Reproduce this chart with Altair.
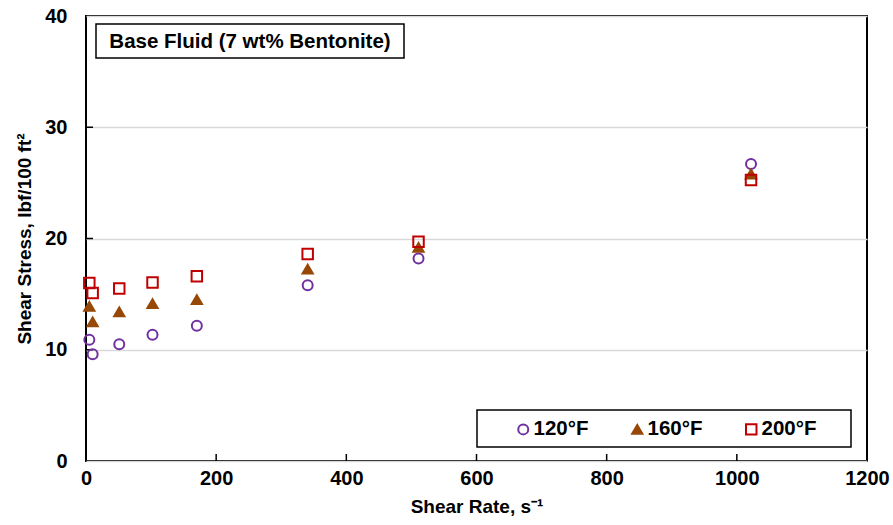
import altair as alt
import pandas as pd

# Shear rates of the viscometer speeds (3, 6, 30, 60, 100, 200, 300, 600 rpm)
shear_rate = [5.11, 10.22, 51.1, 102.2, 170.3, 340.6, 510.9, 1021.8]
stress_120 = [10.9, 9.6, 10.5, 11.35, 12.15, 15.8, 18.2, 26.7]
stress_160 = [13.9, 12.5, 13.4, 14.15, 14.5, 17.25, 19.2, 25.8]
stress_200 = [16.0, 15.1, 15.5, 16.05, 16.6, 18.6, 19.7, 25.25]

series = ["120°F", "160°F", "200°F"]
colors = ["#7030A0", "#974706", "#C00000"]
fills = ["transparent", "#974706", "transparent"]
shapes = ["circle", "triangle-up", "square"]
sizes = [100, 110, 121]

x_ticks = [0, 200, 400, 600, 800, 1000, 1200]
y_ticks = [0, 10, 20, 30, 40]
x_inner = [200, 400, 600, 800, 1000]
y_inner = [10, 20, 30]

FONT = "Liberation Sans"
W, H = 781, 445

rows = []
for name, vals in zip(series, [stress_120, stress_160, stress_200]):
    for r, s in zip(shear_rate, vals):
        rows.append({"rate": r, "stress": s, "series": name})
df = pd.DataFrame(rows)

x_scale = alt.Scale(domain=[0, 1200], nice=False, zero=True)
y_scale = alt.Scale(domain=[0, 40], nice=False, zero=True)

x_enc = alt.X(
    "rate:Q", scale=x_scale,
    axis=alt.Axis(values=x_ticks, format="d", grid=False, ticks=False, domain=False,
                  labelFlush=False, labelOverlap=False,
                  labelFont=FONT, labelFontSize=20, labelFontWeight="bold",
                  labelColor="black", labelPadding=7,
                  title="Shear Rate, s⁻¹", titleFont=FONT, titleFontSize=19,
                  titleFontWeight="bold", titleColor="black", titlePadding=9),
)
y_enc = alt.Y(
    "stress:Q", scale=y_scale,
    axis=alt.Axis(values=y_ticks, grid=True, gridColor="#D9D9D9", gridWidth=1.5,
                  ticks=False, domain=False, labelFlush=False, labelOverlap=False,
                  labelFont=FONT, labelFontSize=20, labelFontWeight="bold",
                  labelColor="black", labelPadding=19,
                  title="Shear Stress, lbf/100 ft²", titleFont=FONT, titleFontSize=19,
                  titleFontWeight="bold", titleColor="black", titlePadding=10),
)

points = alt.Chart(df).mark_point(strokeWidth=2, opacity=1).encode(
    x=x_enc,
    y=y_enc,
    color=alt.Color(
        "series:N", scale=alt.Scale(domain=series, range=colors), title=None,
        legend=alt.Legend(orient="none", legendX=427, legendY=403,
                          direction="horizontal", padding=0, columnPadding=38,
                          labelFont=FONT, labelFontSize=20.5, labelFontWeight="bold",
                          labelColor="black", labelOffset=0, symbolStrokeWidth=2),
    ),
    shape=alt.Shape("series:N", scale=alt.Scale(domain=series, range=shapes), title=None),
    fill=alt.Fill("series:N", scale=alt.Scale(domain=series, range=fills), title=None),
    size=alt.Size("series:N", scale=alt.Scale(domain=series, range=sizes), title=None),
    order=alt.Order("series:N"),
)

# inward tick marks
xt = alt.Chart(pd.DataFrame({"v": x_inner})).mark_rule(color="black", strokeWidth=1.5).encode(
    x=alt.X("v:Q", scale=x_scale), y=alt.value(H), y2=alt.value(H - 7))
yt = alt.Chart(pd.DataFrame({"v": y_inner})).mark_rule(color="black", strokeWidth=1.5).encode(
    y=alt.Y("v:Q", scale=y_scale), x=alt.value(0), x2=alt.value(7))

# boxed caption
cap_box = alt.Chart(pd.DataFrame({"a": [0]})).mark_rect(
    fill="white", stroke="black", strokeWidth=1.5).encode(
    x=alt.value(10), x2=alt.value(318), y=alt.value(8), y2=alt.value(42))
cap_text = alt.Chart(pd.DataFrame({"t": ["Base Fluid (7 wt% Bentonite)"]})).mark_text(
    font=FONT, fontSize=20.5, fontWeight="bold", color="black", align="center",
    baseline="middle").encode(x=alt.value(164), y=alt.value(25.5), text="t:N")

# legend frame
leg_box = alt.Chart(pd.DataFrame({"a": [0]})).mark_rect(
    fill="white", stroke="black", strokeWidth=1.5).encode(
    x=alt.value(391), x2=alt.value(765), y=alt.value(394), y2=alt.value(431))

chart = alt.layer(xt, yt, cap_box, cap_text, leg_box, points).properties(
    width=W, height=H,
    autosize=alt.AutoSizeParams(type="none"),
    padding={"left": 86, "top": 16, "right": 26, "bottom": 64},
    background="white",
).configure_view(stroke="black", strokeWidth=2)

chart.save("out.html", embed_options={"renderer": "svg", "actions": False})
